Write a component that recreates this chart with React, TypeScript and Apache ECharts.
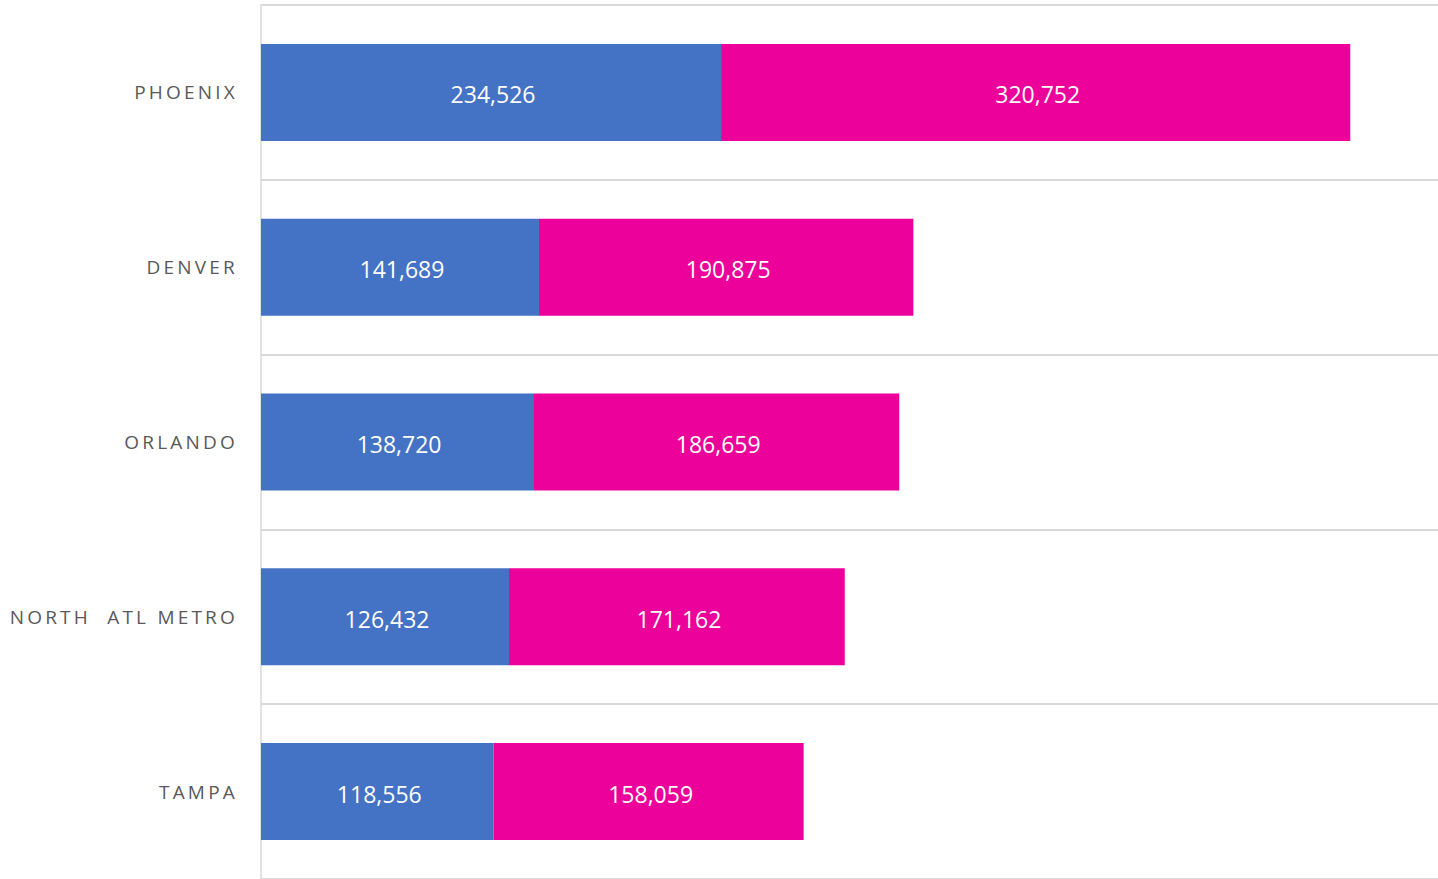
import React, { useEffect, useRef } from "react";
import * as echarts from "echarts";

const cities = ["PHOENIX", "DENVER", "ORLANDO", "NORTH  ATL METRO", "TAMPA"];
const blueValues = [234526, 141689, 138720, 126432, 118556];
const pinkValues = [320752, 190875, 186659, 171162, 158059];

const fmt = (v: number) => v.toLocaleString("en-US");

export default function App() {
  const ref = useRef<HTMLDivElement>(null);
  useEffect(() => {
    if (!ref.current) return;
    const chart = echarts.init(ref.current, undefined, { renderer: "svg" });
    const labelStyle = {
      show: true,
      position: "inside",
      color: "#ffffff",
      fontFamily: "Open Sans",
      fontSize: 23,
      offset: [2, 2],
      formatter: (p: any) => fmt(p.value),
    };
    chart.setOption({
      animation: false,
      grid: { left: 261, right: 0, top: 5, bottom: 0, containLabel: false },
      xAxis: {
        type: "value",
        min: 0,
        max: 600000,
        axisLabel: { show: false },
        axisLine: { show: false },
        axisTick: { show: false },
        splitLine: { show: false },
      },
      yAxis: {
        type: "category",
        inverse: true,
        data: cities,
        axisLine: { show: true, lineStyle: { color: "#d9d9d9", width: 1.5 } },
        axisTick: { show: false },
        splitLine: { show: true, lineStyle: { color: "#d9d9d9", width: 2 } },
        axisLabel: {
          color: "#595959",
          fontFamily: "Open Sans",
          fontSize: 19,
          margin: 23,
        },
      },
      series: [
        {
          type: "bar",
          stack: "total",
          data: blueValues,
          barWidth: 97,
          itemStyle: { color: "#4472C4" },
          label: labelStyle,
        },
        {
          type: "bar",
          stack: "total",
          data: pinkValues,
          barWidth: 97,
          itemStyle: { color: "#EC029B" },
          label: labelStyle,
        },
      ],
    });
    return () => chart.dispose();
  }, []);
  return (
    <>
      <style>{`text[fill="#595959"]{letter-spacing:3.2px;}`}</style>
      <div
        ref={ref}
        style={{ position: "absolute", left: 0, top: 0, width: 1438, height: 879 }}
      />
    </>
  );
}
